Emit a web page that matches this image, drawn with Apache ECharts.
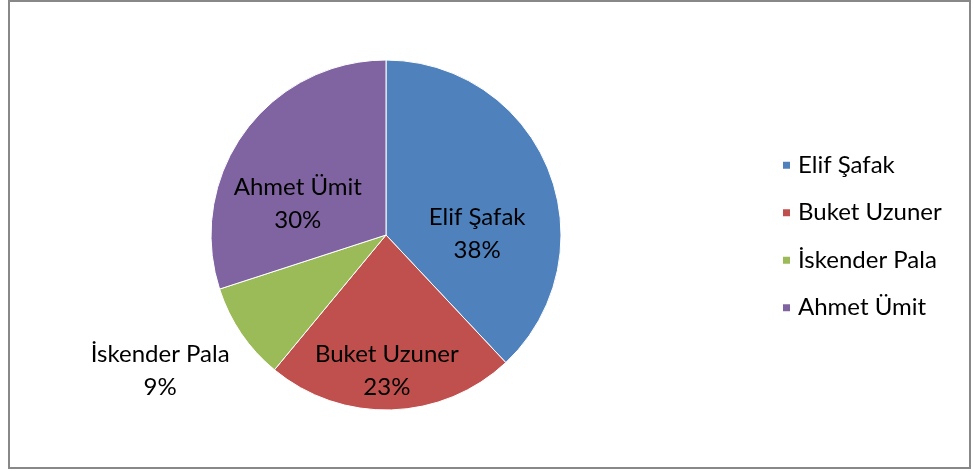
<!DOCTYPE html>
<html>
<head>
<meta charset="utf-8">
<script src="https://cdn.jsdelivr.net/npm/echarts@6/dist/echarts.min.js"></script>
<style>
  html, body { margin: 0; padding: 0; background: #fff; }
  #chart { width: 973px; height: 471px; }
</style>
</head>
<body>
<div id="chart"></div>
<script>
// Authors and their shares
const authors = ['Elif Şafak', 'Buket Uzuner', 'İskender Pala', 'Ahmet Ümit'];
const shares = [38, 23, 9, 30];
const sliceColors = ['#4F81BD', '#C0504D', '#9BBB59', '#8064A2'];

// Label nudges relative to the library's default inside-label anchor
const labelShift = [[7, 32], [-2, 45], [-151, 85], [-15, 22]];

const FONT = 'Lato, "Noto Sans", "DejaVu Sans", sans-serif';

const chart = echarts.init(document.getElementById('chart'), null, { renderer: 'canvas' });

chart.setOption({
  animation: false,
  color: sliceColors,
  graphic: [{
    type: 'rect',
    shape: { x: 9, y: 1, width: 961, height: 467 },
    style: { fill: 'none', stroke: '#888888', lineWidth: 2 },
    silent: true
  }],
  legend: {
    orient: 'vertical',
    left: 776,
    top: 148,
    data: authors,
    icon: 'rect',
    itemWidth: 9,
    itemHeight: 9,
    itemGap: 23,
    textStyle: {
      fontFamily: FONT,
      fontSize: 24,
      color: '#000',
      lineHeight: 24.5,
      padding: [0, 0, 0, 2]
    }
  },
  series: [{
    type: 'pie',
    center: [386, 235],
    radius: 175,
    startAngle: 90,
    clockwise: true,
    avoidLabelOverlap: false,
    itemStyle: { borderColor: '#ffffff', borderWidth: 1 },
    label: {
      show: true,
      position: 'inside',
      formatter: '{b}\n{d}%',
      fontFamily: FONT,
      fontSize: 24,
      lineHeight: 33,
      color: '#000',
      align: 'center'
    },
    labelLine: { show: false },
    labelLayout: function (p) {
      const s = labelShift[p.dataIndex];
      return { dx: s[0], dy: s[1] };
    },
    emphasis: { disabled: true },
    data: authors.map((name, i) => ({ name: name, value: shares[i] }))
  }]
});
</script>
</body>
</html>
